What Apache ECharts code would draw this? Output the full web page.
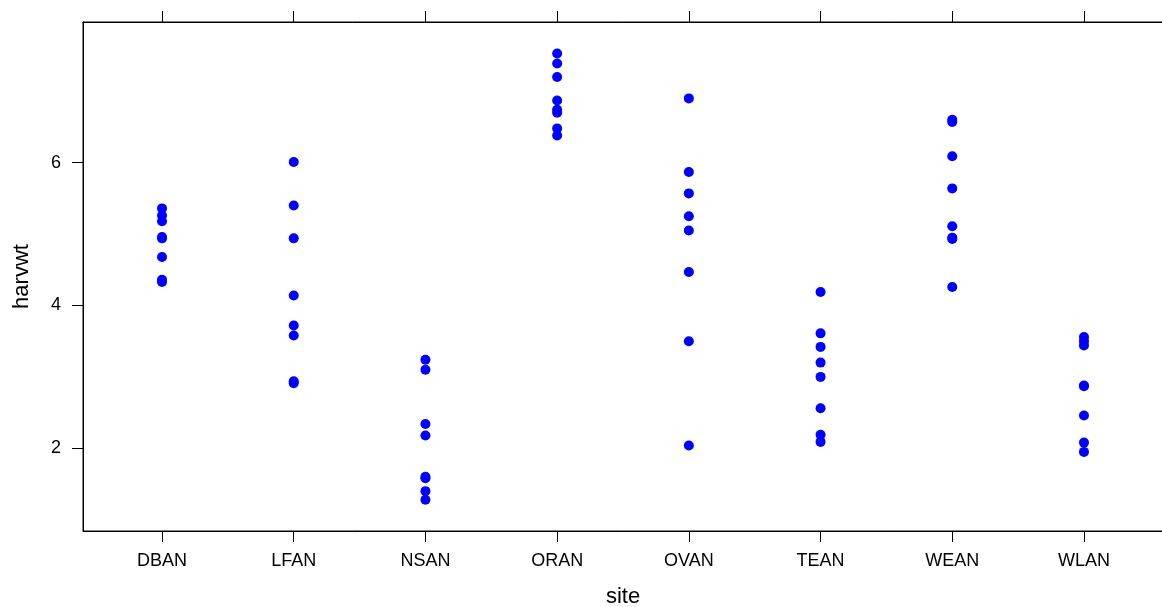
<!DOCTYPE html>
<html>
<head>
<meta charset="utf-8">
<script src="https://cdn.jsdelivr.net/npm/echarts@6/dist/echarts.min.js"></script>
<style>
html,body{margin:0;padding:0;background:#fff;}
#chart{width:1162px;height:607px;}
</style>
</head>
<body>
<div id="chart"></div>
<script>
var sites = ['DBAN','LFAN','NSAN','ORAN','OVAN','TEAN','WEAN','WLAN'];
var DBAN = [5.36, 5.26, 5.18, 4.96, 4.94, 4.68, 4.36, 4.33];
var LFAN = [6.01, 5.40, 4.94, 4.14, 3.72, 3.58, 2.94, 2.91];
var NSAN = [3.24, 3.10, 2.34, 2.18, 1.60, 1.58, 1.40, 1.28];
var ORAN = [7.53, 7.39, 7.20, 6.87, 6.74, 6.70, 6.48, 6.38];
var OVAN = [6.90, 5.87, 5.57, 5.25, 5.05, 4.47, 3.50, 2.04];
var TEAN = [4.19, 3.61, 3.42, 3.20, 3.00, 2.56, 2.19, 2.09];
var WEAN = [6.60, 6.57, 6.09, 5.64, 5.11, 4.95, 4.93, 4.26];
var WLAN = [3.56, 3.50, 3.44, 2.88, 2.87, 2.46, 2.08, 1.95];
var yTicks = [2, 4, 6];

var values = [DBAN, LFAN, NSAN, ORAN, OVAN, TEAN, WEAN, WLAN];
var points = [];
values.forEach(function (arr, i) {
  arr.forEach(function (v) { points.push([i + 1, v]); });
});
var xTicks = sites.map(function (s, i) { return i + 1; });

var font = 'Liberation Sans, Arial, Helvetica, sans-serif';
var chart = echarts.init(document.getElementById('chart'), null, {renderer: 'canvas'});
chart.setOption({
  animation: false,
  backgroundColor: '#fff',
  grid: {left: 83, top: 22, right: -1, bottom: 76, show: true, borderColor: '#000', borderWidth: 1,
    backgroundColor: 'transparent', containLabel: false, outerBoundsMode: 'none'},
  xAxis: [{
    type: 'value', min: 0.4, max: 8.6, position: 'bottom',
    name: 'site', nameLocation: 'middle', nameGap: 55,
    nameTextStyle: {color: '#000', fontFamily: font, fontSize: 22},
    axisLine: {show: true, lineStyle: {color: '#000', width: 1}},
    axisTick: {show: true, length: 11, lineStyle: {color: '#000'}, customValues: xTicks},
    axisLabel: {show: true, color: '#000', fontFamily: font, fontSize: 18, margin: 21,
      customValues: xTicks, formatter: function (v) { return sites[Math.round(v) - 1] || ''; }},
    splitLine: {show: false}
  }, {
    type: 'value', min: 0.4, max: 8.6, position: 'top',
    axisLine: {show: true, lineStyle: {color: '#000', width: 1}},
    axisTick: {show: true, length: 11, lineStyle: {color: '#000'}, customValues: xTicks},
    axisLabel: {show: false},
    splitLine: {show: false}
  }],
  yAxis: {
    type: 'value', min: 0.842, max: 7.97,
    name: 'harvwt', nameLocation: 'middle', nameGap: 50, nameRotate: 90,
    nameTextStyle: {color: '#000', fontFamily: font, fontSize: 22},
    axisLine: {show: true, lineStyle: {color: '#000', width: 1}},
    axisTick: {show: true, length: 11, lineStyle: {color: '#000'}, customValues: yTicks},
    axisLabel: {show: true, color: '#000', fontFamily: font, fontSize: 18, margin: 22, customValues: yTicks},
    splitLine: {show: false}
  },
  series: [{
    type: 'scatter', xAxisIndex: 0, data: points,
    symbol: 'circle', symbolSize: 10,
    itemStyle: {color: '#0000ff', opacity: 1}
  }]
});
</script>
</body>
</html>
